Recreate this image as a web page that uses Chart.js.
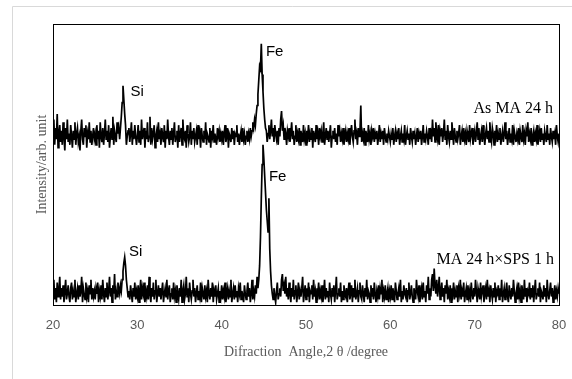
<!DOCTYPE html>
<html>
<head>
<meta charset="utf-8">
<script src="https://cdn.jsdelivr.net/npm/chart.js@4/dist/chart.umd.min.js"></script>
<style>
    html, body { margin: 0; padding: 0; background: #fff; overflow: hidden; }
    #wrap { width: 572px; height: 379px; }
</style>
</head>
<body>
<div id="wrap"><canvas id="xrdChart" width="572" height="379"></canvas></div>
<script>
// Scan grid: 2theta from 20 to 80 degree, one reading every 0.1 degree
const angleStart = 20;
const angleStep = 0.1;
const xTicks = [20, 30, 40, 50, 60, 70, 80];

// As MA 24 h (upper pattern, shifted up)
const asMilled = [
    60,66,57,63,59,68,56,61,64,58, 62,57,65,60,55,63,59,66,58,61, 57,64,60,56,62,59,65,57,61,63, 58,60,55,62,66,59,57,63,60,64, 56,61,59,65,58,62,57,60,63,59,
    61,57,64,59,62,56,65,60,58,63, 57,61,66,59,62,58,64,56,60,63, 59,67,57,62,60,58,65,61,63,59, 63,67,72,78,73,68,64,57,60,62, 63,58,61,65,57,62,59,64,60,57,
    60,64,58,62,57,66,59,61,63,56, 62,59,65,58,60,67,57,63,59,61, 64,56,60,62,58,65,59,61,57,63, 60,58,64,56,62,59,66,60,57,62, 59,63,57,61,65,58,60,62,56,64,
    58,61,63,57,66,60,59,62,56,64, 61,58,60,65,57,62,59,63,58,60, 62,57,64,59,61,56,63,60,58,62, 59,65,57,61,60,58,63,56,62,60, 64,58,61,59,57,63,60,62,58,61,
    59,62,57,61,64,58,60,63,56,61, 60,58,63,59,62,57,61,60,64,58, 61,57,60,62,58,63,59,61,57,60, 62,58,61,59,63,60,62,65,63,66, 64,68,71,75,80,85,84,93,82,76,
    70,66,63,62,58,61,64,59,62,66, 60,63,58,64,61,59,62,57,63,60, 66,69,62,64,59,63,61,57,62,60, 63,58,61,65,59,62,57,60,64,58, 61,59,63,57,62,60,58,64,59,61,
    57,62,60,64,58,61,59,63,56,62, 60,58,64,59,61,57,63,60,62,58, 61,65,57,60,63,59,62,58,61,64, 56,60,62,59,63,58,61,57,64,60, 62,58,61,59,63,57,60,62,58,61,
    59,63,57,61,64,60,58,62,66,59, 61,57,63,60,62,71,58,61,59,63, 57,62,60,58,64,59,61,57,62,60, 63,58,61,59,62,57,60,64,58,61, 59,62,57,63,60,58,61,59,62,60,
    58,61,59,63,57,60,62,58,61,59, 63,57,60,62,58,61,59,64,57,60, 62,59,61,57,63,60,58,62,59,61, 57,60,63,58,61,59,62,57,60,64, 58,61,59,62,60,57,63,59,61,58,
    66,60,63,58,65,61,59,64,57,62, 60,63,58,61,66,59,62,57,64,60, 58,62,59,65,61,57,63,60,58,62, 59,61,64,57,60,62,58,63,59,61, 57,62,60,58,64,59,61,63,57,60,
    62,58,61,65,59,63,57,60,62,58, 64,60,57,61,63,59,62,58,65,60, 58,63,61,57,62,60,64,58,61,59, 63,57,60,62,58,61,65,59,62,57, 60,63,58,61,59,64,57,62,60,58,
    61,59,63,57,62,60,58,64,59,61, 57,62,60,65,58,61,59,63,57,60, 62,58,61,59,64,57,60,62,58,63, 59,61,57,62,60,58,64,59,61,57, 63,60,58,62,59,61,57,64,60,58,
    61
];

// MA 24 h x SPS 1 h (lower pattern)
const afterSps = [
    4,9,2,6,1,8,3,5,10,2, 6,3,7,1,5,9,2,4,7,3, 1,6,8,2,5,3,9,1,4,6, 2,7,3,5,10,1,6,4,2,8, 3,5,1,7,4,9,2,6,3,5,
    2,6,4,8,1,5,3,7,2,9, 4,1,6,3,8,2,5,10,3,6, 1,7,4,11,2,5,3,8,6,4, 7,5,9,12,15,17,14,9,6,3, 5,2,7,4,1,6,3,8,2,5,
    3,7,1,5,9,2,6,4,8,1, 5,3,7,2,10,4,1,6,3,8, 2,5,9,1,4,7,3,6,2,5, 8,1,4,6,3,9,2,5,7,1, 4,6,2,8,3,5,1,7,4,2,
    6,3,9,1,5,7,2,4,10,3, 6,1,8,4,2,5,9,3,6,1, 4,7,2,5,3,8,1,6,4,2, 7,3,5,1,9,4,2,6,3,8, 1,5,3,7,2,4,6,1,5,3,
    7,2,5,3,8,1,4,6,2,5, 3,9,1,4,6,2,7,3,5,1, 6,4,8,2,5,3,1,7,4,2, 5,8,3,6,1,4,9,2,5,3, 7,4,10,6,9,14,24,38,50,57,
    52,46,40,34,30,26,38,20,12,7, 4,2,6,3,1,5,8,2,4,6, 3,9,11,5,7,4,10,3,6,2, 8,4,1,6,3,9,2,5,7,1, 4,8,2,5,3,6,10,1,4,7,
    2,6,3,8,1,5,4,7,2,9, 3,5,1,6,4,8,2,5,3,7, 1,4,9,2,6,3,5,1,8,4, 2,6,3,7,1,5,10,2,4,6, 3,8,1,5,2,7,4,3,6,1,
    5,8,2,4,7,1,6,3,9,2, 4,6,1,5,8,3,2,7,4,1, 6,3,9,2,5,4,1,7,3,6, 2,8,4,1,5,3,7,2,6,4, 9,1,5,3,7,2,4,6,1,5,
    3,7,2,6,4,1,8,5,2,4, 6,3,9,1,5,2,7,4,3,6, 1,5,8,2,4,7,3,1,6,4, 2,9,5,3,7,1,4,6,2,8, 3,5,1,7,4,10,2,6,3,9,
    11,5,13,7,4,9,3,6,10,2, 5,8,3,6,1,7,4,9,2,5, 3,7,1,6,4,8,2,5,3,7, 1,6,4,9,2,5,3,8,1,4, 6,2,7,3,5,1,8,4,2,6,
    3,9,5,1,6,4,2,8,3,5, 7,1,4,6,2,9,3,5,1,7, 4,2,6,3,8,1,5,4,7,2, 6,3,9,1,4,6,2,5,8,3, 1,7,4,2,6,3,9,5,1,4,
    6,2,8,3,5,1,7,4,2,9, 3,6,1,5,4,8,2,6,3,7, 1,5,9,2,4,6,3,8,1,5, 4,2,7,3,6,1,9,4,2,5, 8,3,6,1,4,7,2,5,3,6,
    4
];

// peak marks and sample names, placed in data units
const notes = [
    { text: "Fe", x: 45.25, y: 90, font: "15px 'Liberation Sans'", align: "left" },
    { text: "Si", x: 29.2, y: 76, font: "15px 'Liberation Sans'", align: "left" },
    { text: "Fe", x: 45.6, y: 45.5, font: "15px 'Liberation Sans'", align: "left" },
    { text: "Si", x: 29.0, y: 19, font: "15px 'Liberation Sans'", align: "left" },
    { text: "As MA 24 h", x: 79.3, y: 70, font: "16px 'Liberation Serif'", align: "right" },
    { text: "MA 24 h\u00d7SPS 1 h", x: 79.4, y: 16, font: "16px 'Liberation Serif'", align: "right" },
];

const toPoints = (values) => values.map((v, i) => ({ x: angleStart + i * angleStep, y: v }));

const frameAndNotes = {
    id: "frameAndNotes",
    beforeDraw(chart) {
        const c = chart.ctx;
        c.save();
        c.strokeStyle = "#d9d9d9";
        c.lineWidth = 1;
        c.beginPath();
        c.moveTo(12.5, 379);
        c.lineTo(12.5, 6.5);
        c.lineTo(572, 6.5);
        c.stroke();
        c.restore();
    },
    afterDraw(chart) {
        const { ctx: c, chartArea: a, scales } = chart;
        c.save();
        c.strokeStyle = "#000";
        c.lineWidth = 1;
        c.strokeRect(Math.round(a.left) + 0.5, Math.round(a.top) + 0.5,
            Math.round(a.right - a.left), Math.round(a.bottom - a.top));
        c.fillStyle = "#000";
        c.textBaseline = "middle";
        notes.forEach((n) => {
            c.font = n.font;
            c.textAlign = n.align;
            c.fillText(n.text, scales.x.getPixelForValue(n.x), scales.y.getPixelForValue(n.y));
        });
        c.restore();
    },
};

new Chart(document.getElementById("xrdChart"), {
    type: "line",
    data: {
        datasets: [
            { label: "As MA 24 h", data: toPoints(asMilled) },
            { label: "MA 24 h x SPS 1 h", data: toPoints(afterSps) },
        ],
    },
    options: {
        responsive: false,
        animation: false,
        layout: { padding: { left: 0, right: 13, top: 24, bottom: 0 } },
        elements: {
            line: { borderColor: "#000", borderWidth: 1.7, tension: 0 },
            point: { radius: 0 },
        },
        plugins: {
            legend: { display: false },
            tooltip: { enabled: false },
        },
        scales: {
            x: {
                type: "linear",
                min: 20,
                max: 80,
                afterBuildTicks: (scale) => { scale.ticks = xTicks.map((v) => ({ value: v })); },
                afterFit: (scale) => {
                    scale.height = 74;
                    scale.paddingRight = 0;
                    scale.paddingLeft = 0;
                },
                grid: { display: false, drawTicks: false },
                border: { display: false },
                ticks: {
                    padding: 13,
                    color: "#595959",
                    font: { family: "'Liberation Sans'", size: 13 },
                },
                title: {
                    display: true,
                    text: "Difraction  Angle,2 \u03b8 /degree",
                    color: "#595959",
                    font: { family: "'Liberation Serif'", size: 14 },
                    padding: { top: 0, bottom: 18 },
                },
            },
            y: {
                min: 0,
                max: 100,
                afterFit: (scale) => { scale.width = 53; },
                grid: { display: false, drawTicks: false },
                border: { display: false },
                ticks: { display: false },
                title: {
                    display: true,
                    text: "Intensity/arb. unit",
                    color: "#595959",
                    font: { family: "'Liberation Serif'", size: 14 },
                    padding: { top: 34, bottom: 0 },
                },
            },
        },
    },
    plugins: [frameAndNotes],
});
</script>
</body>
</html>
